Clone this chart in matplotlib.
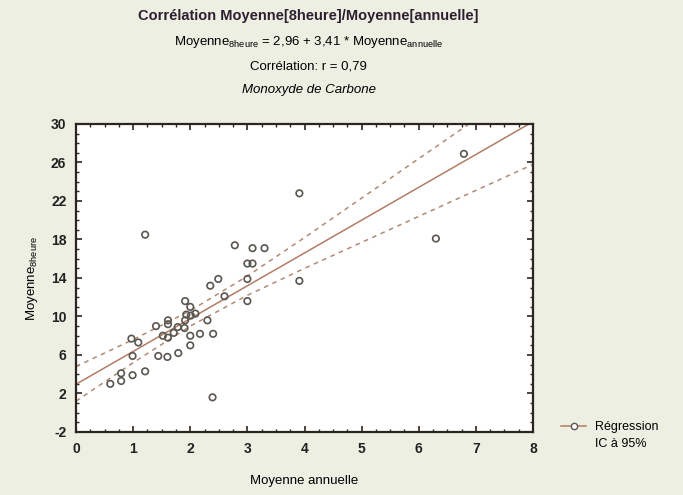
import matplotlib

matplotlib.use("Agg")
import matplotlib.pyplot as plt
from matplotlib.lines import Line2D
from matplotlib.ticker import MultipleLocator

plt.rcParams.update(
    {
        "font.family": ["Liberation Sans", "DejaVu Sans"],
        "mathtext.fontset": "custom",
        "mathtext.rm": "Liberation Sans",
        "mathtext.it": "Liberation Sans:italic",
        "mathtext.bf": "Liberation Sans:bold",
        "axes.unicode_minus": False,
    }
)

BG = "#eeefe3"
POINT = "#5a5650"
REG = "#b27c66"
BAND = "#b08a72"
FRAME = "#2b2520"

# scatter: annual mean (x) vs 8-hour mean (y)
annual = [
    3.91, 1.21, 2.78, 3.09, 3.30, 3.00, 3.09, 3.91, 2.49, 2.35,
    3.00, 2.60, 3.00, 1.91, 2.00, 2.09, 1.93, 2.01, 2.30, 1.91,
    1.90, 1.61, 1.61, 1.40, 1.78, 1.71, 1.52, 1.61, 2.00, 2.17,
    2.40, 2.00, 0.97, 1.09, 0.99, 1.44, 1.60, 1.79, 1.21, 0.99,
    0.79, 0.79, 0.60, 2.39, 6.79, 6.30,
]
hours8 = [
    22.8, 18.5, 17.4, 17.1, 17.1, 15.5, 15.5, 13.7, 13.9, 13.2,
    13.9, 12.1, 11.6, 11.6, 11.0, 10.3, 10.2, 10.1, 9.6, 9.6,
    8.8, 9.6, 9.2, 9.0, 8.9, 8.3, 8.0, 7.8, 8.0, 8.2,
    8.2, 7.0, 7.7, 7.3, 5.9, 5.9, 5.8, 6.2, 4.3, 3.9,
    4.1, 3.3, 3.0, 1.6, 26.9, 18.1,
]

# regression line y = 2.96 + 3.41 x and its 95% confidence band
band_x = [0, 1, 2, 3, 4, 5, 6, 7, 8]
reg_y = [2.96, 6.37, 9.78, 13.19, 16.60, 20.01, 23.42, 26.83, 30.24]
upper_y = [4.8, 7.6, 10.6, 14.2, 18.2, 22.3, 26.4, 30.5, 34.6]
lower_y = [1.2, 5.2, 9.0, 12.2, 15.0, 17.7, 20.4, 23.1, 25.8]

x_ticks = [0, 1, 2, 3, 4, 5, 6, 7, 8]
y_ticks = [-2, 2, 6, 10, 14, 18, 22, 26, 30]


fig = plt.figure(figsize=(6.83, 4.95), dpi=100, facecolor=BG)
ax = fig.add_axes([0.1113, 0.1273, 0.6691, 0.6222])
ax.set_facecolor("white")

ax.plot(band_x, upper_y, color=BAND, linestyle=(0, (3, 3)), linewidth=1.1, zorder=2)
ax.plot(band_x, lower_y, color=BAND, linestyle=(0, (3, 3)), linewidth=1.1, zorder=2)
ax.plot(band_x, reg_y, color=REG, linewidth=1.1, zorder=2)
ax.scatter(annual, hours8, s=22, facecolors="none", edgecolors=POINT, linewidths=1.2, zorder=3)

ax.set_xlim(0, 8)
ax.set_ylim(-2, 30)
ax.set_xticks(x_ticks)
ax.set_yticks(y_ticks)
ax.xaxis.set_minor_locator(MultipleLocator(0.25))
ax.yaxis.set_minor_locator(MultipleLocator(1))
ax.tick_params(which="both", direction="in", top=True, right=True, colors=FRAME)
ax.tick_params(which="major", length=4, width=1.2, labelsize=10, pad=7)
ax.tick_params(which="minor", length=2.5, width=1.0)
for lab in ax.get_xticklabels() + ax.get_yticklabels():
    lab.set_fontweight("bold")
    lab.set_color("#222222")
for spine in ax.spines.values():
    spine.set_color(FRAME)
    spine.set_linewidth(1.6)

ax.set_xlabel("Moyenne annuelle", fontsize=9.5, labelpad=14)
ax.set_ylabel(r"Moyenne$_{\mathrm{8heure}}$", fontsize=9.5, labelpad=8)

cx = 0.452
fig.text(cx, 0.968, "Corrélation Moyenne[8heure]/Moyenne[annuelle]",
         ha="center", va="center", fontsize=10.5, fontweight="bold", color="#2a2030")
fig.text(cx, 0.915, r"Moyenne$_{\mathrm{8heure}}$ = 2,96 + 3,41 * Moyenne$_{\mathrm{annuelle}}$",
         ha="center", va="center", fontsize=9.5)
fig.text(cx, 0.865, "Corrélation: r = 0,79", ha="center", va="center", fontsize=9.5)
fig.text(cx, 0.818, "Monoxyde de Carbone", ha="center", va="center",
         fontsize=9.5, style="italic")

handles = [
    Line2D([], [], color=REG, linewidth=1.1, marker="o", markersize=4.5,
           markerfacecolor="white", markeredgecolor=POINT),
    Line2D([], [], linestyle="none"),
]
fig.legend(handles, ["Régression", "IC à 95%"], loc="center left",
           bbox_to_anchor=(0.805, 0.12), frameon=False, fontsize=9,
           handlelength=2.0, handletextpad=0.7, labelspacing=0.35)

fig.savefig("out.png", dpi=100, facecolor=BG)
